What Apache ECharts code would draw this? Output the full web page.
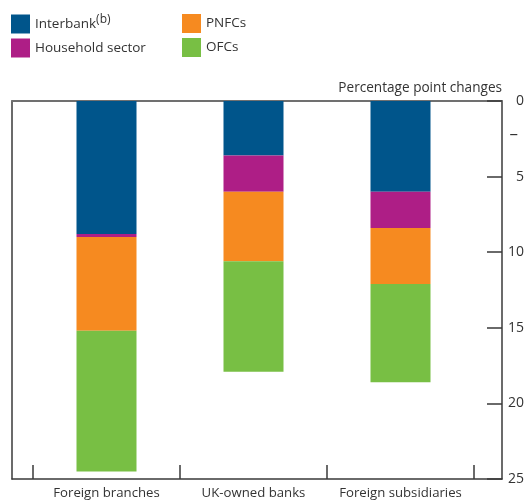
<!DOCTYPE html>
<html>
<head>
<meta charset="utf-8">
<script src="https://cdn.jsdelivr.net/npm/echarts@6/dist/echarts.min.js"></script>
<style>
  html, body { margin: 0; padding: 0; background: #fff; }
  #chart { width: 528px; height: 500px; }
</style>
</head>
<body>
<div id="chart"></div>
<script>
// Change in lending by sector, percentage points (negative = fall)
const categories = ['Foreign branches', 'UK-owned banks', 'Foreign subsidiaries'];
const interbank = [-8.8, -3.6, -6.0];
const household = [-0.2, -2.4, -2.4];
const pnfcs = [-6.2, -4.6, -3.7];
const ofcs = [-9.3, -7.3, -6.5];
const yTicks = [0, -5, -10, -15, -20, -25];

const FONT = '"Open Sans", "Noto Sans", sans-serif';
const TEXT = '#333';
const AXIS = '#3a3a3a';

const seriesDefs = [
  { name: 'Interbank', data: interbank, color: '#00558b' },
  { name: 'Household sector', data: household, color: '#ae1e86' },
  { name: 'PNFCs', data: pnfcs, color: '#f68a20' },
  { name: 'OFCs', data: ofcs, color: '#78bf44' }
];

const legendBase = {
  orient: 'vertical',
  top: 14,
  padding: 0,
  itemWidth: 19,
  itemHeight: 19,
  itemGap: 5,
  icon: 'rect',
  selectedMode: false,
  textStyle: {
    fontFamily: FONT, fontSize: 13.5, color: TEXT,
    rich: {
      n: { fontFamily: FONT, fontSize: 13.5, color: TEXT },
      s: { fontFamily: FONT, fontSize: 12, color: TEXT, verticalAlign: 'bottom', padding: [0, 0, 8, 0] }
    }
  },
  formatter: name => name === 'Interbank' ? '{n|Interbank}{s|(b)}' : name
};

const hiddenParts = { axisTick: { show: false }, axisLabel: { show: false }, splitLine: { show: false } };

const chart = echarts.init(document.getElementById('chart'), null, { renderer: 'canvas' });
chart.setOption({
  animation: false,
  backgroundColor: '#fff',
  legend: [
    Object.assign({}, legendBase, { left: 11, data: ['Interbank', 'Household sector'] }),
    Object.assign({}, legendBase, { left: 182, data: ['PNFCs', 'OFCs'] })
  ],
  grid: [
    // outer frame
    { left: 12, right: 26, top: 101, bottom: 21, containLabel: false },
    // bar area
    { left: 33, right: 54, top: 101, bottom: 21, containLabel: false }
  ],
  xAxis: [
    Object.assign({ gridIndex: 0, type: 'value', min: 0, max: 1, position: 'bottom',
      axisLine: { show: true, onZero: false, lineStyle: { color: AXIS, width: 1.5 } } }, hiddenParts),
    Object.assign({ gridIndex: 0, type: 'value', min: 0, max: 1, position: 'top',
      axisLine: { show: true, onZero: false, lineStyle: { color: '#707070', width: 2 } } }, hiddenParts),
    { gridIndex: 1, type: 'category', data: categories, position: 'bottom',
      axisLine: { show: false, onZero: false },
      axisTick: { show: true, inside: true, length: 14, lineStyle: { color: AXIS, width: 1.5 } },
      axisLabel: { interval: 0, fontFamily: FONT, fontSize: 13.2, color: TEXT, margin: 8 } }
  ],
  yAxis: [
    { gridIndex: 0, type: 'value', min: -25, max: 0, interval: 5, position: 'right',
      name: 'Percentage point changes', nameLocation: 'end', nameGap: 13,
      nameTextStyle: { fontFamily: FONT, fontSize: 13.6, color: TEXT, align: 'right', verticalAlign: 'middle' },
      axisLine: { show: true, onZero: false, lineStyle: { color: AXIS, width: 1.5 } },
      axisTick: { show: true, inside: true, length: 15, lineStyle: { color: AXIS, width: 1.5 } },
      axisLabel: { fontFamily: FONT, fontSize: 14, color: TEXT, align: 'right', margin: 22,
        formatter: v => yTicks.includes(v) ? String(Math.abs(v)) : '' },
      splitLine: { show: false } },
    Object.assign({ gridIndex: 0, type: 'value', min: -25, max: 0, position: 'left',
      axisLine: { show: true, onZero: false, lineStyle: { color: AXIS, width: 1.5 } } }, hiddenParts),
    { gridIndex: 1, type: 'value', min: -25, max: 0, interval: 5, show: false,
      axisLine: { onZero: false } }
  ],
  graphic: [
    // minus sign marking the falls shown below zero
    { type: 'text', right: 10, top: 126,
      style: { text: '–', fontFamily: FONT, fontSize: 17, fill: TEXT } }
  ],
  series: seriesDefs.map(s => ({
    name: s.name,
    type: 'bar',
    stack: 'total',
    xAxisIndex: 2,
    yAxisIndex: 2,
    barWidth: 60,
    data: s.data,
    itemStyle: { color: s.color },
    emphasis: { disabled: true }
  }))
});
</script>
</body>
</html>
